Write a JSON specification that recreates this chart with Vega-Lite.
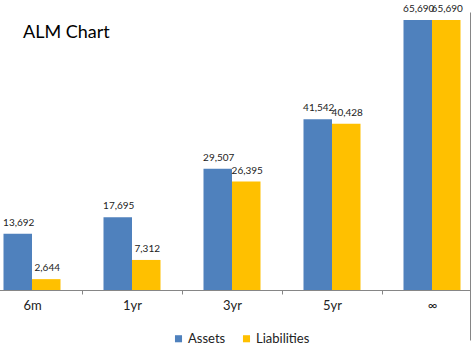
{
  "$schema": "https://vega.github.io/schema/vega-lite/v6.json",
  "width": 470,
  "height": 328,
  "autosize": {"type": "none"},
  "padding": {"left": 0, "top": 12, "right": 1, "bottom": 12},
  "background": "white",
  "config": {"view": {"stroke": null}, "font": "Lato"},
  "title": {"text": "ALM Chart", "anchor": "start", "frame": "group", "fontSize": 18, "fontWeight": "normal", "color": "#000000", "offset": -52, "dx": 23, "baseline": "alphabetic"},
  "data": {"values": [
    {"period": "6m", "series": "Assets", "value": 13692},
    {"period": "6m", "series": "Liabilities", "value": 2644},
    {"period": "1yr", "series": "Assets", "value": 17695},
    {"period": "1yr", "series": "Liabilities", "value": 7312},
    {"period": "3yr", "series": "Assets", "value": 29507},
    {"period": "3yr", "series": "Liabilities", "value": 26395},
    {"period": "5yr", "series": "Assets", "value": 41542},
    {"period": "5yr", "series": "Liabilities", "value": 40428},
    {"period": "∞", "series": "Assets", "value": 65690},
    {"period": "∞", "series": "Liabilities", "value": 65690}
  ]},
  "encoding": {
    "x": {"field": "period", "type": "nominal", "sort": ["6m", "1yr", "3yr", "5yr", "∞"],
      "scale": {"range": [-18, 482], "paddingInner": 0, "paddingOuter": 0},
      "axis": {"title": null, "orient": "bottom", "offset": -50, "tickBand": "extent", "domainColor": "#868686", "tickColor": "#868686", "tickSize": 4, "labelPadding": 5, "labelFontSize": 13, "labelColor": "#222222", "labelAngle": 0}},
    "xOffset": {"field": "series", "sort": ["Assets", "Liabilities"], "scale": {"paddingInner": 0, "paddingOuter": 0.754}},
    "y": {"field": "value", "type": "quantitative",
      "scale": {"domain": [-12165, 67637], "nice": false, "zero": false},
      "axis": {"orient": "right", "labels": false, "title": null, "grid": false, "domainColor": "#868686", "tickColor": "#868686", "tickSize": 3, "values": [56689, 46835, 36982, 27128, 17275, 7421, -2433]}}
  },
  "layer": [
    {"mark": {"type": "bar"},
     "encoding": {
       "y2": {"datum": 0},
       "color": {"field": "series", "type": "nominal", "sort": ["Assets", "Liabilities"],
         "scale": {"domain": ["Assets", "Liabilities"], "range": ["#4F81BD", "#FFC000"]},
         "legend": {"orient": "none", "legendX": 172, "legendY": 320, "direction": "horizontal", "title": null, "symbolType": "square", "symbolSize": 50, "symbolStrokeWidth": 0, "labelFontSize": 13, "labelColor": "#222222", "columnPadding": 14, "labelOffset": 3}}}},
    {"mark": {"type": "text", "dy": -8, "dx": 1, "fontSize": 10, "baseline": "alphabetic", "color": "#222222"},
     "encoding": {"text": {"field": "value", "type": "quantitative", "format": ","}}}
  ]
}
